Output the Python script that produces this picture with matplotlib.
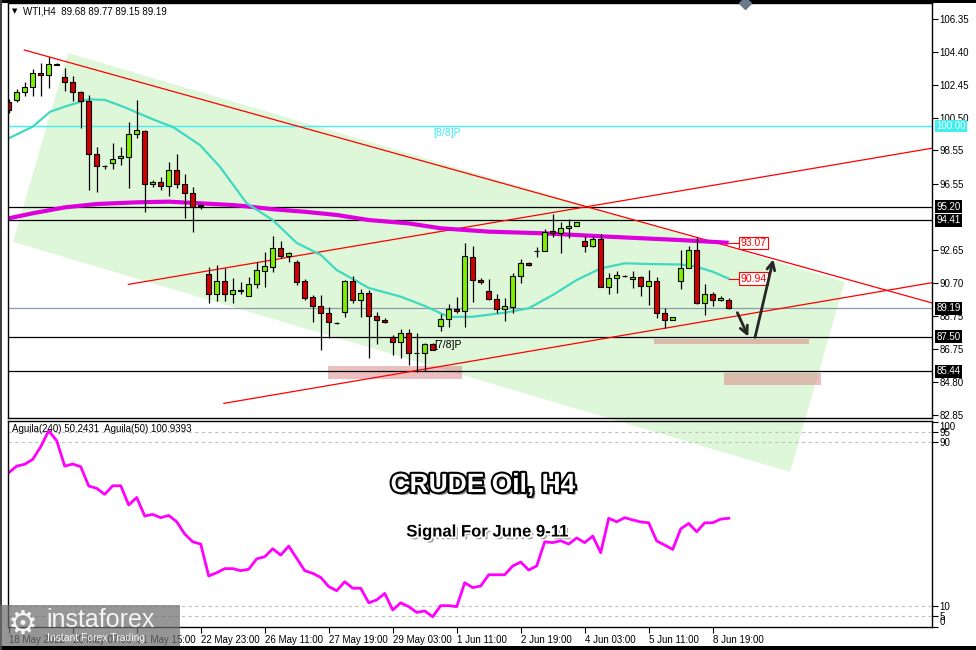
import matplotlib
matplotlib.use("Agg")
import matplotlib.pyplot as plt
import matplotlib.patheffects as pe
import matplotlib.transforms as mtrans
from matplotlib.patches import Polygon, Rectangle
from matplotlib.lines import Line2D

plt.rcParams['font.family'] = ['Liberation Sans', 'DejaVu Sans']
plt.rcParams['font.size'] = 7

W, H = 976, 650

# ---- WTI H4 candles ----
opens = [101.44, 101.54, 102.04, 102.33, 103.16, 103.01, 103.66, 102.93, 102.63, 102.00,
         101.50, 98.32, 97.64, 97.79, 98.08, 98.18, 99.51, 99.70, 96.54, 96.70,
         96.44, 97.39, 96.54, 96.00, 95.30, 91.20, 90.01, 90.80, 90.01, 90.20,
         89.93, 90.60, 91.41, 91.65, 92.74, 92.30, 91.95, 90.80, 89.83, 89.34,
         88.88, 88.33, 88.94, 90.82, 89.67, 90.07, 88.72, 88.49, 87.46, 87.20,
         87.70, 86.55, 86.51, 87.04, 88.15, 88.55, 89.12, 89.02, 92.21, 90.86,
         90.23, 89.72, 89.12, 89.28, 91.10, 91.85, 92.60, 92.60, 93.77, 93.63,
         93.93, 94.08, 93.19, 92.90, 93.28, 90.46, 90.96, 91.12, 90.90, 91.02,
         90.52, 90.80, 88.88, 88.49, 90.80, 91.59, 92.64, 89.51, 90.01, 89.67,
         89.68]
highs = [101.60, 102.20, 102.60, 103.38, 103.72, 104.08, 103.72, 103.42, 102.97, 102.08,
         101.84, 98.77, 97.70, 98.97, 98.77, 100.26, 101.54, 99.76, 96.80, 96.99,
         97.84, 98.34, 97.15, 96.40, 95.40, 91.65, 91.75, 91.55, 90.96, 90.76,
         91.02, 91.95, 92.54, 93.47, 93.17, 92.54, 92.05, 90.90, 89.97, 89.97,
         89.24, 88.35, 90.85, 91.10, 90.31, 90.27, 88.98, 88.62, 87.60, 87.93,
         87.93, 87.70, 87.10, 87.10, 88.82, 89.42, 89.87, 93.07, 92.88, 90.95,
         90.92, 90.01, 89.77, 91.30, 92.09, 91.90, 92.84, 93.87, 94.78, 94.32,
         94.46, 94.32, 93.47, 93.47, 93.57, 91.26, 91.41, 91.15, 91.40, 91.10,
         91.45, 91.02, 89.18, 88.67, 92.64, 92.88, 93.40, 90.62, 90.17, 89.90,
         89.77]
lows = [100.80, 101.45, 101.80, 101.80, 101.80, 102.27, 103.60, 102.08, 101.50, 99.90,
        96.20, 96.10, 97.45, 97.43, 97.68, 96.30, 99.27, 94.91, 96.40, 96.20,
        95.86, 96.30, 94.52, 93.73, 95.10, 89.51, 89.60, 89.60, 89.51, 90.01,
        89.90, 90.37, 90.46, 91.35, 92.15, 91.94, 90.56, 89.70, 88.39, 86.70,
        87.40, 88.27, 88.68, 89.48, 88.68, 86.21, 87.06, 88.33, 86.40, 86.21,
        85.82, 85.38, 85.48, 86.70, 87.83, 88.09, 88.92, 88.05, 89.57, 90.65,
        89.67, 88.88, 88.45, 88.92, 90.70, 91.67, 92.21, 92.58, 93.43, 92.44,
        93.34, 94.05, 92.54, 92.80, 90.43, 90.03, 90.11, 91.05, 90.40, 89.93,
        89.38, 88.62, 88.00, 88.47, 90.31, 91.55, 89.44, 88.78, 89.32, 89.62,
        89.15]
closes = [100.95, 102.04, 102.33, 103.16, 103.01, 103.66, 103.64, 102.63, 102.04, 101.50,
          98.32, 97.64, 97.62, 98.02, 98.24, 99.51, 99.76, 96.54, 96.70, 96.44,
          97.39, 96.54, 96.00, 95.17, 95.25, 90.01, 90.80, 90.01, 90.27, 90.25,
          90.60, 91.45, 91.69, 92.74, 92.30, 92.44, 90.76, 89.81, 89.34, 88.88,
          88.35, 88.30, 90.82, 89.67, 90.07, 88.72, 88.49, 88.35, 87.20, 87.70,
          86.55, 86.53, 87.04, 86.71, 88.55, 89.12, 89.02, 92.29, 90.86, 90.72,
          89.72, 89.12, 89.32, 91.10, 91.85, 91.73, 92.58, 93.73, 93.63, 93.93,
          94.07, 94.28, 92.90, 93.28, 90.46, 90.96, 91.16, 91.08, 91.02, 90.52,
          90.80, 88.88, 88.49, 88.65, 91.55, 92.64, 89.51, 90.01, 89.67, 89.81,
          89.19]

# moving averages (bar index, price)
ma_fast_x = [0, 3, 5.2, 7, 10, 12, 14.3, 17.7, 20.6, 23.9, 26.4, 29.75, 33, 36, 39, 41, 45,
             49, 52, 55, 58, 62, 65, 68, 71, 74, 77, 80, 84, 86, 88, 90]
ma_fast_y = [99.27, 99.96, 100.85, 101.15, 101.58, 101.55, 101.15, 100.46, 99.92, 98.87,
             97.58, 95.41, 94.42, 93.06, 92.35, 91.45, 90.39, 89.87, 89.32, 88.67, 88.68,
             88.92, 89.18, 89.97, 90.86, 91.55, 91.85, 91.81, 91.78, 91.65, 91.35, 90.94]
ma_slow_x = [0, 3, 7, 11, 16, 20, 24, 28, 30, 33, 37, 41, 45, 50, 54, 60, 67, 75, 84, 90]
ma_slow_y = [94.52, 94.82, 95.17, 95.37, 95.47, 95.51, 95.41, 95.31, 95.22, 95.06, 94.91,
             94.72, 94.42, 94.22, 93.93, 93.73, 93.63, 93.43, 93.23, 93.07]

# Aguila(240) oscillator
aguila = [75.2, 78.4, 79.3, 81.7, 87.9, 95.7, 90.8, 78.4, 79.4, 78.1,
          68.7, 67.5, 64.6, 68.8, 68.8, 59.4, 63.1, 54.0, 54.8, 53.2,
          54.3, 51.2, 45.2, 41.4, 40.3, 24.7, 26.3, 28.3, 28.3, 27.3,
          28.0, 33.1, 34.1, 38.0, 34.9, 39.3, 33.3, 27.3, 26.0, 24.0,
          19.5, 17.5, 21.9, 18.7, 18.7, 11.6, 13.0, 16.2, 8.1, 11.6,
          9.7, 6.9, 7.6, 4.8, 10.2, 10.2, 9.7, 21.4, 19.0, 19.8,
          25.3, 25.3, 25.3, 29.6, 31.5, 27.6, 29.6, 41.4, 41.0, 41.9,
          40.3, 43.3, 41.0, 44.2, 36.1, 52.9, 51.2, 53.2, 52.1, 51.1,
          50.7, 41.8, 39.8, 37.7, 47.7, 50.4, 46.3, 50.7, 50.7, 52.5,
          52.9]

time_ticks = list(range(0, 89, 8))
time_labels = ["18 May 2022", "20 May 07:00", "21 May 15:00", "22 May 23:00", "26 May 11:00",
               "27 May 19:00", "29 May 03:00", "1 Jun 11:00", "2 Jun 19:00", "4 Jun 03:00",
               "5 Jun 11:00", "8 Jun 19:00"]
price_ticks = [106.35, 104.40, 102.45, 100.50, 98.55, 96.55, 92.65, 90.70, 88.75, 86.75,
               84.80, 82.85]
levels = [95.20, 94.41, 87.50, 85.44]
last_price = 89.19
murrey_8 = 100.00
murrey_7 = 87.50

# drawn objects (bar index, price)
channel = [(7.41, 104.33), (104.5, 90.74), (97.66, 79.47), (0.54, 93.12)]
trend_lines = [((1.95, 104.51), (115.4, 89.5)),
               ((14.95, 90.6), (115.4, 98.68)),
               ((26.9, 83.54), (115.4, 90.7))]
zones = [(39.95, 56.6, 84.99, 85.76), (80.7, 100.0, 87.06, 87.34), (89.4, 101.5, 84.63, 85.36)]

fig = plt.figure(figsize=(W / 100, H / 100), dpi=100)
ax = fig.add_axes([8 / W, 1 - 418 / H, 924 / W, 415 / H])
ax2 = fig.add_axes([8 / W, 1 - 627 / H, 924 / W, 206 / H])
ax2.set_facecolor('none')

ax.set_xlim(-0.09, 115.41)
ax.set_ylim(82.67, 107.30)

ax.add_patch(Polygon(channel, closed=True, fc='#ddf7d8', ec='none', zorder=0, clip_on=False))
for x0, x1, y0, y1 in zones:
    ax.add_patch(Rectangle((x0, y0), x1 - x0, y1 - y0, fc='#d98080', ec='none', alpha=0.5,
                           zorder=1, clip_on=False))

for lv in levels:
    ax.axhline(lv, color='black', lw=0.9, zorder=1.2)
ax.axhline(last_price, color='#8a9ab0', lw=0.9, zorder=1.2)
ax.axhline(murrey_8, color='#40f0f0', lw=1.0, zorder=1.2)
ax.text(53.1, 99.57, '[8/8]P', color='#40e8f0', fontsize=7.5, va='center', ha='left')
ax.text(53.2, 86.99, '[7/8]P', color='black', fontsize=7.5, va='center', ha='left')

for (xa, ya), (xb, yb) in trend_lines:
    ax.plot([xa, xb], [ya, yb], color='#ff0000', lw=0.9, zorder=1.4)

ax.plot(ma_slow_x, ma_slow_y, color='#dd00dd', lw=3.0, zorder=1.6, solid_capstyle='butt')
ax.plot(ma_fast_x, ma_fast_y, color='#40d9c0', lw=1.6, zorder=1.7)

idx = list(range(len(opens)))
ax.vlines(idx, lows, highs, color='black', lw=0.9, zorder=2)
bottoms = [min(o, c) for o, c in zip(opens, closes)]
heights = [max(abs(c - o), 0.02) for o, c in zip(opens, closes)]
colors = ['#7cf000' if c >= o else '#d40000' for o, c in zip(opens, closes)]
ax.bar(idx, heights, bottom=bottoms, width=0.62, color=colors, edgecolor='black',
       linewidth=0.8, zorder=2.1)

# MA value tags
for val in (ma_slow_y[-1], ma_fast_y[-1]):
    ax.plot([90, 91.3], [val, val], color='red', lw=0.8, zorder=3)
    ax.text(91.45, val, f'{val:.2f}', color='red', fontsize=7.5, va='center', ha='left',
            bbox=dict(boxstyle='square,pad=0.12', fc='white', ec='red', lw=0.8), zorder=4)

# projected path
arr = dict(arrowstyle='->,head_length=0.8,head_width=0.4', color='#262626', lw=2.0,
           shrinkA=0, shrinkB=0)
ax.annotate('', xy=(92.45, 87.5), xytext=(91.08, 88.92), arrowprops=arr, zorder=5)
ax.annotate('', xy=(95.58, 92.09), xytext=(93.29, 87.46), arrowprops=arr, zorder=5)

# right price scale
ax.yaxis.tick_right()
ax.set_yticks(price_ticks)
ax.set_yticklabels([f'{t:.2f}' for t in price_ticks])
ax.tick_params(axis='y', length=4, width=0.8, pad=1.5, labelsize=7)
ax.set_xticks([])
for s in ax.spines.values():
    s.set_linewidth(1.0)

tr = mtrans.blended_transform_factory(ax.transAxes, ax.transData)
for lv, fc in [(95.20, 'black'), (94.41, 'black'), (last_price, 'black'), (87.50, 'black'),
               (85.44, 'black'), (murrey_8, '#40f0f0')]:
    ax.text(1.0045, lv, f'{lv:.2f}', transform=tr, color='white', fontsize=7, va='center',
            ha='left', bbox=dict(boxstyle='square,pad=0.15', fc=fc, ec='none'), zorder=5,
            clip_on=False)

# indicator panel
ax2.set_xlim(-0.09, 115.41)
ax2.set_ylim(-0.24, 100.45)
for lv in (95, 90, 10, 5):
    ax2.axhline(lv, color='#c0c0c0', lw=0.8, ls=(0, (3, 3)))
ax2.plot(idx, aguila, color='#ff00ff', lw=2.0)
ax2.yaxis.tick_right()
ax2.set_yticks([100, 95, 90, 10, 5, 0])
ax2.set_yticklabels(['100', '95', '90', '10', '5', '0'])
ax2.tick_params(axis='y', length=4, width=0.8, pad=1.5, labelsize=7)
ylab = ax2.get_yticklabels()
ylab[0].set_va('top')
ylab[-1].set_va('bottom')
ax2.set_xticks(time_ticks)
ax2.set_xticklabels(time_labels)
ax2.tick_params(axis='x', length=4, width=0.8, pad=1.5, labelsize=7)
for lab in ax2.get_xticklabels():
    lab.set_ha('left')
for s in ax2.spines.values():
    s.set_linewidth(1.0)

fig.text(12 / W, 1 - 11 / H, '\u25bc', fontsize=5, va='center', ha='left',
         family='DejaVu Sans')
fig.text(23 / W, 1 - 11 / H, 'WTI,H4  89.68 89.77 89.15 89.19', fontsize=7, va='center',
         ha='left')
fig.text(12 / W, 1 - 429 / H, 'Aguila(240) 50.2431  Aguila(50) 100.9393', fontsize=7,
         va='center', ha='left')

fig.text(483 / W, 1 - 485 / H, 'CRUDE Oil, H4', fontsize=19, fontweight='bold',
         color='white', ha='center', va='center',
         path_effects=[pe.SimplePatchShadow(offset=(2, -2), shadow_rgbFace='black', alpha=0.45),
                       pe.Stroke(linewidth=3, foreground='black'), pe.Normal()])
fig.text(487 / W, 1 - 532 / H, 'Signal For June 9-11', fontsize=12, fontweight='bold',
         color='black', ha='center', va='center',
         path_effects=[pe.SimplePatchShadow(offset=(2, -2), shadow_rgbFace='black', alpha=0.35),
                       pe.Stroke(linewidth=2.5, foreground='white'), pe.Normal()])

# shift marker and frame
fig.add_artist(Line2D([745 / W], [1 - 3 / H], marker='D', markersize=6, color='#6a7a8a',
                      transform=fig.transFigure))
fig.add_artist(Rectangle((0, 1 - 3 / H), 1, 3 / H, transform=fig.transFigure, fc='black',
                         ec='none'))
fig.add_artist(Rectangle((0, 0), 1, 4 / H, transform=fig.transFigure, fc='black', ec='none'))
fig.add_artist(Rectangle((0, 0), 2 / W, 1, transform=fig.transFigure, fc='#404040', ec='none'))

# watermark
fig.add_artist(Rectangle((0, 4 / H), 180 / W, 41 / H, transform=fig.transFigure,
                         fc='#6e6e6e', ec='none', alpha=0.72))
fig.text(23 / W, 1 - 624 / H, '\u2699', fontsize=24, color='white', ha='center',
         va='center', family='DejaVu Sans', alpha=0.9)
fig.text(46 / W, 1 - 620 / H, 'instaforex', fontsize=18, color='white', ha='left',
         va='center', alpha=0.9)
fig.text(47 / W, 1 - 638 / H, 'Instant Forex Trading', fontsize=7.5, color='white',
         ha='left', va='center', alpha=0.9)

fig.savefig('out.png', dpi=100)
